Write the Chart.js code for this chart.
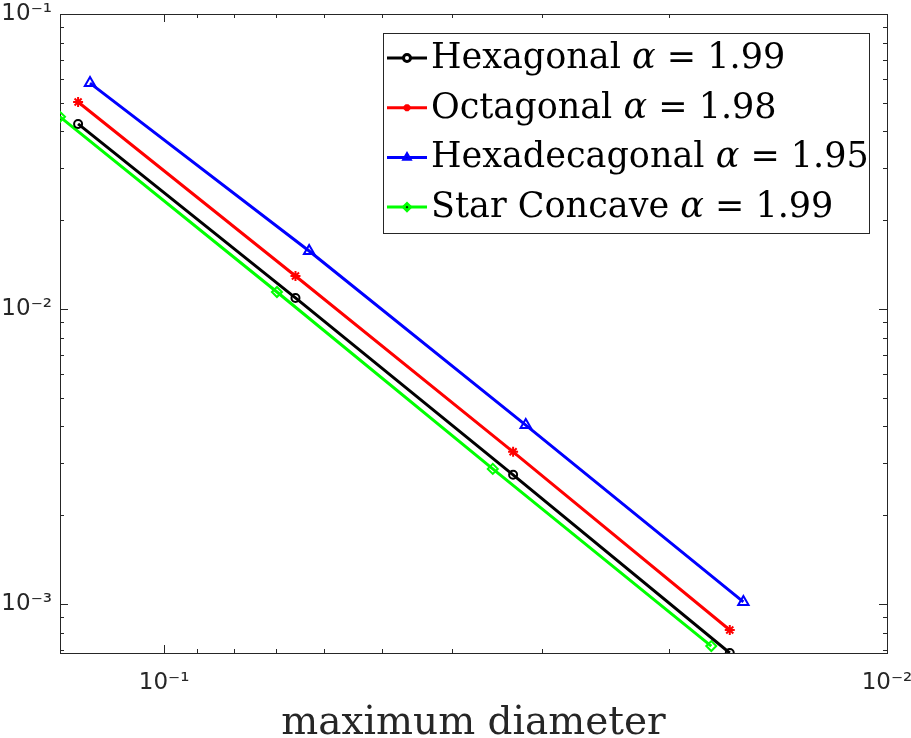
<!DOCTYPE html>
<html>
<head>
<meta charset="utf-8">
<script src="https://cdn.jsdelivr.net/npm/chart.js@4.4.1/dist/chart.umd.min.js"></script>
<style>
html, body { margin: 0; padding: 0; background: #fff; }
#wrap { width: 911px; height: 738px; }
</style>
</head>
<body>
<div id="wrap"><canvas id="convChart"></canvas></div>
<script>
// mesh families and fitted convergence rates
const meshNames = ['Hexagonal', 'Octagonal', 'Hexadecagonal', 'Star Concave'];
const rates = ['1.99', '1.98', '1.95', '1.99'];

// maximum diameter h per refinement level
const hHexagonal = [0.1315, 0.0658, 0.0329, 0.0165];
const hOctagonal = [0.1315, 0.0658, 0.0329, 0.0165];
const hHexadecagonal = [0.1266, 0.0630, 0.0316, 0.0158];
const hStar = [0.1393, 0.0698, 0.0351, 0.0175];

// error per refinement level
const errHexagonal = [0.0424, 0.0109, 0.00274, 0.000682];
const errOctagonal = [0.0503, 0.01294, 0.00328, 0.000816];
const errHexadecagonal = [0.0583, 0.01572, 0.00404, 0.001016];
const errStar = [0.0448, 0.01142, 0.00287, 0.00072];

// axis limits and labelled ticks
const xMin = 0.01, xMax = 0.1393;
const yMin = 0.000682, yMax = 0.1;
const xTicks = [0.1, 0.01];
const xTickLabels = ['10⁻¹', '10⁻²'];
const yTicks = [0.1, 0.01, 0.001];
const yTickLabels = ['10⁻¹', '10⁻²', '10⁻³'];

const axisColor = '#262626';

function toPoints(xs, ys) {
    return xs.map((x, i) => ({ x: x, y: ys[i] }));
}

function labelFor(ticks, labels, v) {
    let i = ticks.findIndex(t => Math.abs(t - v) / t < 1e-6);
    return i >= 0 ? labels[i] : '';
}

// minor ticks at 2..9 x each decade inside [lo, hi]
function logTicks(lo, hi) {
    let out = [];
    for (let e = -4; e <= 0; e++) {
        for (let k = 1; k <= 9; k++) {
            let v = k * Math.pow(10, e);
            if (v >= lo * 0.9999 && v <= hi * 1.0001) out.push({ v: v, major: k === 1 });
        }
    }
    return out;
}

// MATLAB style box with inward ticks on all four sides
const framePlugin = {
    id: 'frame',
    beforeDatasetsDraw(chart) {
        const { ctx, chartArea: a, scales } = chart;
        ctx.save();
        ctx.strokeStyle = axisColor;
        ctx.lineWidth = 1;
        ctx.strokeRect(a.left + 0.5, a.top + 0.5, a.right - a.left, a.bottom - a.top);
        ctx.beginPath();
        logTicks(xMin, xMax).forEach(t => {
            let px = Math.round(scales.x.getPixelForValue(t.v)) + 0.5;
            let len = t.major ? 8 : 4;
            ctx.moveTo(px, a.bottom); ctx.lineTo(px, a.bottom - len);
            ctx.moveTo(px, a.top); ctx.lineTo(px, a.top + len);
        });
        logTicks(yMin, yMax).forEach(t => {
            let py = Math.round(scales.y.getPixelForValue(t.v)) + 0.5;
            let len = t.major ? 8 : 4;
            ctx.moveTo(a.left, py); ctx.lineTo(a.left + len, py);
            ctx.moveTo(a.right, py); ctx.lineTo(a.right - len, py);
        });
        ctx.stroke();
        ctx.restore();
    }
};

// legend box inside the plot, with italic alpha
const legendPlugin = {
    id: 'boxLegend',
    afterDraw(chart) {
        const ctx = chart.ctx;
        const box = { left: 383, top: 33, right: 869, bottom: 233 };
        const fontSize = 35;
        ctx.save();
        ctx.fillStyle = '#ffffff';
        ctx.fillRect(box.left, box.top, box.right - box.left, box.bottom - box.top);
        ctx.strokeStyle = axisColor;
        ctx.lineWidth = 1;
        ctx.strokeRect(box.left + 0.5, box.top + 0.5, box.right - box.left, box.bottom - box.top);
        chart.data.datasets.forEach((ds, i) => {
            let yLine = 58 + i * 49.7;
            ctx.strokeStyle = ds.borderColor;
            ctx.lineWidth = 3;
            ctx.beginPath();
            ctx.moveTo(387, yLine); ctx.lineTo(427, yLine);
            ctx.stroke();
            Chart.helpers.drawPoint(ctx, {
                pointStyle: ds.pointStyle, radius: 3.5, borderWidth: 2, rotation: 0
            }, 407, yLine);
            ctx.fillStyle = '#000000';
            ctx.textBaseline = 'alphabetic';
            let x = 431, yb = yLine + 10;
            ctx.font = fontSize + 'px "DejaVu Serif"';
            ctx.fillText(meshNames[i] + ' ', x, yb);
            x += ctx.measureText(meshNames[i] + ' ').width;
            ctx.font = 'italic ' + fontSize + 'px "DejaVu Serif"';
            ctx.fillText('α', x, yb);
            x += ctx.measureText('α').width;
            ctx.font = fontSize + 'px "DejaVu Serif"';
            ctx.fillText(' = ' + rates[i], x, yb);
        });
        ctx.restore();
    }
};

function series(name, i, xs, ys, color, style, radius) {
    return {
        label: name + ' α = ' + rates[i],
        data: toPoints(xs, ys),
        borderColor: color,
        backgroundColor: color,
        borderWidth: 3,
        pointStyle: style,
        pointRadius: radius,
        pointBorderWidth: 2,
        pointBackgroundColor: 'rgba(0,0,0,0)',
        pointBorderColor: color,
        tension: 0
    };
}

const ctx = document.getElementById('convChart').getContext('2d');
new Chart(ctx, {
    type: 'line',
    data: {
        datasets: [
            series(meshNames[0], 0, hHexagonal, errHexagonal, '#000000', 'circle', 4),
            series(meshNames[1], 1, hOctagonal, errOctagonal, '#ff0000', 'star', 5),
            series(meshNames[2], 2, hHexadecagonal, errHexadecagonal, '#0000ff', 'triangle', 6),
            series(meshNames[3], 3, hStar, errStar, '#00ff00', 'rectRot', 5)
        ]
    },
    options: {
        responsive: true,
        maintainAspectRatio: false,
        animation: false,
        layout: { padding: { top: 14, right: 24, left: 0, bottom: 0 } },
        plugins: {
            legend: { display: false },
            tooltip: { enabled: false }
        },
        scales: {
            x: {
                type: 'logarithmic',
                reverse: true,
                min: xMin,
                max: xMax,
                afterBuildTicks: s => { s.ticks = xTicks.map(v => ({ value: v })); },
                afterFit: s => { s.height = 85; s.paddingLeft = 0; s.paddingRight = 0; },
                grid: { display: false, drawTicks: false },
                border: { display: false },
                ticks: {
                    autoSkip: false, maxRotation: 0, padding: 16, color: axisColor,
                    font: { family: 'DejaVu Sans', size: 23 },
                    callback: v => labelFor(xTicks, xTickLabels, v)
                },
                title: {
                    display: true, text: 'maximum diameter', color: axisColor,
                    font: { family: 'DejaVu Serif', size: 39, lineHeight: 1 },
                    padding: { top: 0, bottom: -5 }
                }
            },
            y: {
                type: 'logarithmic',
                min: yMin,
                max: yMax,
                afterBuildTicks: s => { s.ticks = yTicks.map(v => ({ value: v })); },
                afterFit: s => { s.width = 60; s.paddingTop = 0; s.paddingBottom = 0; },
                grid: { display: false, drawTicks: false },
                border: { display: false },
                ticks: {
                    autoSkip: false, padding: 8, color: axisColor,
                    font: { family: 'DejaVu Sans', size: 23 },
                    callback: v => labelFor(yTicks, yTickLabels, v)
                }
            }
        }
    },
    plugins: [framePlugin, legendPlugin]
});
</script>
</body>
</html>
